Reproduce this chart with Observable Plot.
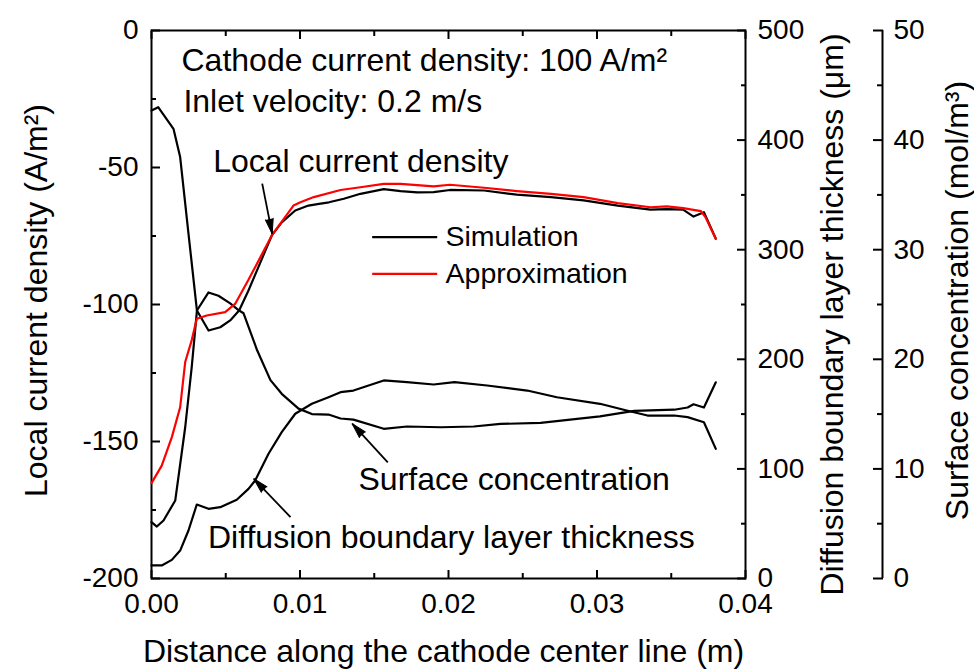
<!DOCTYPE html>
<html><head><meta charset="utf-8">
<script src="https://cdn.jsdelivr.net/npm/d3@7"></script>
<script src="https://cdn.jsdelivr.net/npm/@observablehq/plot@0.6"></script>
<style>body{margin:0;background:#fff}</style>
</head><body><div id="chart"></div>
<script>
// Local current density – simulation (x in m, A/m2)
const simX = [0, 0.00045, 0.00148, 0.00193, 0.00249, 0.00306, 0.00384, 0.00463, 0.0053, 0.0059, 0.00653, 0.0081, 0.00877, 0.00968, 0.01057, 0.01128, 0.01195, 0.01295, 0.01407, 0.01564, 0.01677, 0.0179, 0.019, 0.0201, 0.0224, 0.0246, 0.0269, 0.0291, 0.0314, 0.0336, 0.0347, 0.0358, 0.0365, 0.0372, 0.0380];
const simV = [-29.2, -28, -35.9, -46.2, -74.1, -102.2, -109.5, -108.3, -105.8, -102.2, -94.9, -74.8, -70, -65.7, -63.9, -63.3, -62.7, -61.4, -59.6, -57.9, -58.6, -59.1, -59, -58.2, -58.4, -59.9, -60.8, -62, -63.9, -65.4, -65.2, -65.4, -67.9, -66.3, -76];
// Local current density – approximation
const apX = [0, 0.00069, 0.00137, 0.00193, 0.00227, 0.00271, 0.00305, 0.00372, 0.00496, 0.00563, 0.00653, 0.0081, 0.00956, 0.01003, 0.01093, 0.01273, 0.01407, 0.01564, 0.01677, 0.019, 0.0201, 0.0224, 0.0246, 0.0269, 0.0291, 0.0314, 0.0336, 0.0347, 0.0358, 0.037, 0.0373, 0.0380];
const apV = [-165.2, -158.8, -148.4, -137.5, -121, -113, -105.2, -104, -102.8, -99.8, -91, -74.8, -63.9, -62.7, -60.8, -58.2, -57.2, -56, -56, -56.9, -56.3, -57.4, -58.6, -59.6, -60.8, -63, -64.5, -64.2, -64.8, -65.9, -68.1, -76];
// Surface concentration (mol/m3)
const concX = [0, 0.00036, 0.00081, 0.0016, 0.00227, 0.00271, 0.00306, 0.00384, 0.00451, 0.0053, 0.0059, 0.0062, 0.00712, 0.00801, 0.00877, 0.0099, 0.0108, 0.01192, 0.01273, 0.0136, 0.01564, 0.0172, 0.0195, 0.0217, 0.0235, 0.0262, 0.0302, 0.0325, 0.0352, 0.0361, 0.0365, 0.0372, 0.0380];
const concC = [5.14, 4.74, 5.29, 7.12, 13.8, 19.3, 24.45, 26.1, 25.8, 25.1, 24.45, 24.2, 20.8, 18.1, 16.85, 15.5, 15.0, 14.96, 14.6, 14.5, 13.66, 13.87, 13.8, 13.87, 14.1, 14.2, 14.8, 15.3, 15.4, 15.6, 15.9, 15.6, 17.9];
// Diffusion boundary layer thickness (um)
const thX = [0, 0.00069, 0.00137, 0.00193, 0.00249, 0.00305, 0.00384, 0.00463, 0.00574, 0.00653, 0.00698, 0.00788, 0.00877, 0.00968, 0.0108, 0.01192, 0.01273, 0.0136, 0.01564, 0.0172, 0.019, 0.0204, 0.0226, 0.0253, 0.0273, 0.0302, 0.032, 0.0334, 0.0352, 0.0361, 0.0372, 0.0380];
const thT = [11.9, 11.9, 17.0, 25.5, 43.8, 67.5, 63.6, 65.1, 71.8, 81.8, 89.4, 113.8, 133.5, 150.3, 159.4, 165.4, 170, 171.5, 180.7, 179.1, 177, 179.1, 176.1, 171.5, 165.4, 159.4, 153.3, 148.7, 148.7, 147.2, 142.6, 118.3];

// Tick values
const xMajor = [0, 0.01, 0.02, 0.03, 0.04];
const xMinor = [0.005, 0.015, 0.025, 0.035];
const yMajor = [-200, -150, -100, -50, 0];
const yMinor = [-175, -125, -75, -25];
const thMajor = [0, 100, 200, 300, 400, 500];
const thMinor = [50, 150, 250, 350, 450];
const cMajor = [0, 10, 20, 30, 40, 50];
const cMinor = [5, 15, 25, 35, 45];

// Annotations
const notes = [
  {x: 0.00202, y: -10.9, text: "Cathode current density: 100 A/m²"},
  {x: 0.00215, y: -25.9, text: "Inlet velocity: 0.2 m/s"},
  {x: 0.00415, y: -47.8, text: "Local current density"},
  {x: 0.01394, y: -163.9, text: "Surface concentration"},
  {x: 0.0038, y: -185.2, text: "Diffusion boundary layer thickness"}
];
const arrows = [
  {x1: 0.007455, y1: -55.9, x2: 0.008128, y2: -74.2},
  {x1: 0.01591, y1: -157.6, x2: 0.013515, y2: -143.5},
  {x1: 0.00936, y1: -177.6, x2: 0.00689, y2: -163.6}
];
const legendItems = [
  {x1: 0.01486, x2: 0.01924, y: -75.4, tx: 0.0198, label: "Simulation", color: "black"},
  {x1: 0.01486, x2: 0.01924, y: -88.8, tx: 0.0198, label: "Approximation", color: "#ff0000"}
];

const W = 974, H = 670, ML = 151, MR = 229, MT = 30, MB = 92;
const xDomain = [0, 0.04], yDomain = [-200, 0];
const kx = (W - ML - MR) / (xDomain[1] - xDomain[0]);
const ky = (H - MT - MB) / (yDomain[1] - yDomain[0]);
const thToY = t => -200 + t * 0.4;   // 0..500 um -> -200..0
const cToY = c => -200 + c * 4;      // 0..50 mol/m3 -> -200..0

const sim = simX.map((x, i) => ({x, y: simV[i]}));
const ap = apX.map((x, i) => ({x, y: apV[i]}));
const conc = concX.map((x, i) => ({x, y: cToY(concC[i])}));
const th = thX.map((x, i) => ({x, y: thToY(thT[i])}));
arrows.forEach(a => {
  const dxp = (a.x2 - a.x1) * kx, dyp = -(a.y2 - a.y1) * ky;
  a.rot = Math.atan2(dxp, -dyp) * 180 / Math.PI;
});

const font = "Liberation Sans, Arial, sans-serif";
const TS = 28, AS = 32;
const dx2 = 137;

const chart = Plot.plot({
  width: W, height: H,
  marginLeft: ML, marginRight: MR, marginTop: MT, marginBottom: MB,
  style: {fontFamily: font, fontSize: TS + "px", color: "black", background: "white"},
  x: {domain: xDomain},
  y: {domain: yDomain},
  marks: [
    // bottom axis labels + ticks
    Plot.axisX({anchor: "bottom", ticks: xMajor, tickSize: 0, tickPadding: 15, tickFormat: d => d.toFixed(2), fontSize: TS, label: null}),
    Plot.axisX({anchor: "bottom", ticks: xMajor, tickSize: 8, dy: -8, tickFormat: () => "", strokeWidth: 2, label: null}),
    Plot.axisX({anchor: "bottom", ticks: xMinor, tickSize: 5, dy: -5, tickFormat: () => "", strokeWidth: 2, label: null}),
    Plot.axisX({anchor: "top", ticks: xMajor, tickSize: 8, dy: 8, tickFormat: () => "", strokeWidth: 2, label: null}),
    Plot.axisX({anchor: "top", ticks: xMinor, tickSize: 5, dy: 5, tickFormat: () => "", strokeWidth: 2, label: null}),
    // left axis
    Plot.axisY({anchor: "left", ticks: yMajor, tickSize: 0, tickPadding: 13, tickFormat: d => String(d), fontSize: TS, label: null}),
    Plot.axisY({anchor: "left", ticks: yMajor, tickSize: 9, dx: 9, tickFormat: () => "", strokeWidth: 2, label: null}),
    Plot.axisY({anchor: "left", ticks: yMinor, tickSize: 5, dx: 5, tickFormat: () => "", strokeWidth: 2, label: null}),
    // right axis 1 (thickness)
    Plot.axisY({anchor: "right", ticks: thMajor.map(thToY), tickSize: 0, tickPadding: 12, tickFormat: d => String(Math.round((d + 200) * 2.5)), fontSize: TS, label: null}),
    Plot.axisY({anchor: "right", ticks: thMajor.map(thToY), tickSize: 9, dx: -9, tickFormat: () => "", strokeWidth: 2, label: null}),
    Plot.axisY({anchor: "right", ticks: thMinor.map(thToY), tickSize: 5, dx: -5, tickFormat: () => "", strokeWidth: 2, label: null}),
    // right axis 2 (concentration), offset outward
    Plot.ruleX([xDomain[1]], {dx: dx2, strokeWidth: 2}),
    Plot.axisY({anchor: "right", ticks: cMajor.map(cToY), tickSize: 0, dx: dx2, tickPadding: 11, tickFormat: d => String(Math.round((d + 200) / 4)), fontSize: TS, label: null}),
    Plot.axisY({anchor: "right", ticks: cMajor.map(cToY), tickSize: 10, dx: dx2 - 10, tickFormat: () => "", strokeWidth: 2, label: null}),
    Plot.axisY({anchor: "right", ticks: cMinor.map(cToY), tickSize: 6, dx: dx2 - 6, tickFormat: () => "", strokeWidth: 2, label: null}),
    Plot.frame({strokeWidth: 2}),
    // axis titles
    Plot.text(["Distance along the cathode center line (m)"], {frameAnchor: "bottom", textAnchor: "middle", lineAnchor: "middle", dy: 73, dx: -5, fontSize: AS}),
    Plot.text(["Local current density (A/m²)"], {frameAnchor: "left", textAnchor: "middle", lineAnchor: "middle", rotate: -90, dx: -115, dy: -4, fontSize: AS}),
    Plot.text(["Diffusion boundary layer thickness (μm)"], {frameAnchor: "right", textAnchor: "middle", lineAnchor: "middle", rotate: -90, dx: 87, dy: 10, fontSize: AS}),
    Plot.text(["Surface concentration (mol/m³)"], {frameAnchor: "right", textAnchor: "middle", lineAnchor: "middle", rotate: -90, dx: 212, dy: -4, fontSize: AS}),
    // curves
    Plot.line(th, {x: "x", y: "y", stroke: "black", strokeWidth: 2.2}),
    Plot.line(conc, {x: "x", y: "y", stroke: "black", strokeWidth: 2.2}),
    Plot.line(sim, {x: "x", y: "y", stroke: "black", strokeWidth: 2.2}),
    Plot.line(ap, {x: "x", y: "y", stroke: "#ff0000", strokeWidth: 2.2}),
    // legend
    Plot.link(legendItems, {x1: "x1", x2: "x2", y1: "y", y2: "y", stroke: "color", strokeWidth: 2.2}),
    Plot.text(legendItems, {x: "tx", y: "y", text: "label", textAnchor: "start", fontSize: 28.5, fill: "black"}),
    // annotations
    Plot.text(notes, {x: "x", y: "y", text: "text", textAnchor: "start", fontSize: AS, fill: "black"}),
    Plot.link(arrows, {x1: "x1", y1: "y1", x2: "x2", y2: "y2", stroke: "black", strokeWidth: 1.8}),
    Plot.vector(arrows, {x: "x2", y: "y2", rotate: "rot", length: 15, r: 4, shape: "spike", anchor: "end", fill: "black", stroke: "black", strokeWidth: 1})
  ]
});
document.getElementById("chart").appendChild(chart);
</script>
</body></html>
